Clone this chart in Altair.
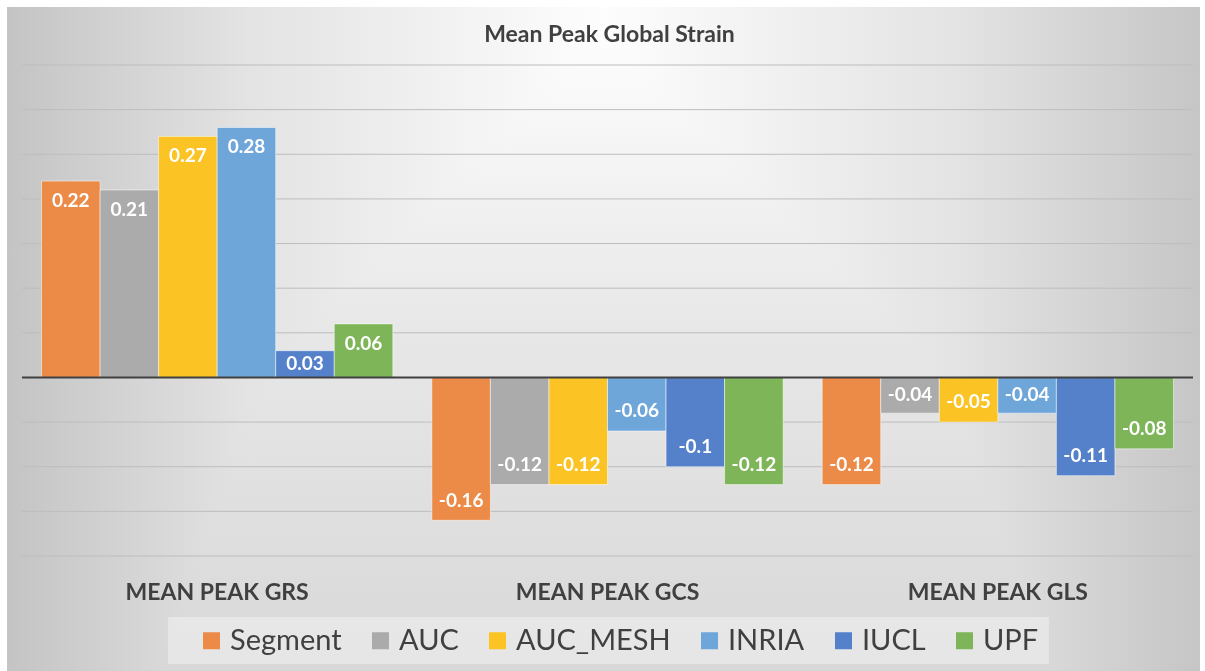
import altair as alt
import pandas as pd

# Categories, series and values
categories = ["MEAN PEAK GRS", "MEAN PEAK GCS", "MEAN PEAK GLS"]
series = ["Segment", "AUC", "AUC_MESH", "INRIA", "IUCL", "UPF"]
colors = ["#EC8A47", "#ABABAB", "#FBC324", "#6EA6DA", "#5580CA", "#7EB559"]

segment = [0.22, -0.16, -0.12]
auc = [0.21, -0.12, -0.04]
auc_mesh = [0.27, -0.12, -0.05]
inria = [0.28, -0.06, -0.04]
iucl = [0.03, -0.10, -0.11]
upf = [0.06, -0.12, -0.08]

grid_ticks = [-0.2, -0.15, -0.1, -0.05, 0.05, 0.1, 0.15, 0.2, 0.25, 0.3, 0.35]

rows = []
for name, vals in zip(series, [segment, auc, auc_mesh, inria, iucl, upf]):
    for cat, v in zip(categories, vals):
        rows.append({"category": cat, "series": name, "value": v, "label": f"{v:g}"})
df = pd.DataFrame(rows)
one = pd.DataFrame({"zero": [0]})

W, H = 1171, 491
FONT = "Lato"
TEXT = "#404040"

yscale = alt.Scale(domain=[-0.2, 0.35], nice=False, zero=False)

x_enc = alt.X(
    "category:N",
    sort=categories,
    scale=alt.Scale(paddingInner=0.1, paddingOuter=0.05),
    axis=alt.Axis(
        title=None, domain=False, ticks=False, grid=False, labelAngle=0,
        labelFont=FONT, labelFontWeight="bold", labelFontSize=23,
        labelColor=TEXT, labelPadding=25, labelLimit=0, zindex=1,
    ),
)
xo_enc = alt.XOffset("series:N", sort=series, scale=alt.Scale(paddingInner=0, paddingOuter=0))

# Chart-area backdrop: horizontal sheen, darkened towards the bottom
bg_h = alt.Chart(one).mark_rect(
    fill={
        "gradient": "linear", "x1": 0, "y1": 0, "x2": 1, "y2": 0,
        "stops": [
            {"offset": 0, "color": "#c4c4c4"},
            {"offset": 0.2, "color": "#e3e3e3"},
            {"offset": 0.5, "color": "#fdfdfd"},
            {"offset": 0.8, "color": "#e3e3e3"},
            {"offset": 1, "color": "#c6c6c6"},
        ],
    }
).encode(x=alt.value(-15), x2=alt.value(1178), y=alt.value(-58), y2=alt.value(606))

bg_v = alt.Chart(one).mark_rect(
    blend="darken",
    fill={
        "gradient": "linear", "x1": 0, "y1": 0, "x2": 0, "y2": 1,
        "stops": [
            {"offset": 0, "color": "#ffffff"},
            {"offset": 0.5, "color": "#e7e7e7"},
            {"offset": 1, "color": "#d8d8d8"},
        ],
    },
).encode(x=alt.value(-15), x2=alt.value(1178), y=alt.value(-58), y2=alt.value(606))

legend_box = alt.Chart(one).mark_rect(fill="#ffffff", opacity=0.35).encode(
    x=alt.value(146), x2=alt.value(1027), y=alt.value(552), y2=alt.value(599)
)

grid = alt.Chart(pd.DataFrame({"tick": grid_ticks})).mark_rule(
    color="#bdbdbd", strokeWidth=1
).encode(y=alt.Y("tick:Q", scale=yscale, axis=None))

bars = alt.Chart(df).mark_bar(stroke="#ffffff", strokeOpacity=0.5, strokeWidth=1).encode(
    x=x_enc,
    xOffset=xo_enc,
    y=alt.Y("value:Q", scale=yscale, axis=None),
    color=alt.Color(
        "series:N",
        sort=series,
        scale=alt.Scale(domain=series, range=colors),
        legend=alt.Legend(
            title=None, orient="none", legendX=175, legendY=561,
            direction="horizontal", symbolType="square", symbolSize=289,
            symbolStrokeWidth=0, labelFont=FONT, labelFontSize=29,
            labelColor=TEXT, labelOffset=4, columnPadding=24, padding=0,
            labelLimit=400, zindex=1,
        ),
    ),
)

zero_line = alt.Chart(one).mark_rule(color="#404040", strokeWidth=2).encode(
    y=alt.Y("zero:Q", scale=yscale, axis=None)
)

labels = alt.Chart(df).transform_calculate(
    pos="datum.value >= 0 ? max(datum.value - 0.022, datum.value / 2) : min(datum.value + 0.022, datum.value / 2)"
).mark_text(
    font=FONT, fontWeight="bold", fontSize=19, color="#ffffff", baseline="middle"
).encode(
    x=x_enc,
    xOffset=xo_enc,
    y=alt.Y("pos:Q", scale=yscale, axis=None),
    text="label:N",
)

title = alt.Chart(one).mark_text(
    text="Mean Peak Global Strain", font=FONT, fontWeight="bold", fontSize=23,
    color=TEXT, baseline="alphabetic", align="center",
).encode(x=alt.value(W / 2 + 2), y=alt.value(-22.7))

chart = alt.layer(
    bg_h, bg_v, legend_box, grid, bars, zero_line, labels, title
).properties(
    width=W,
    height=H,
    padding={"left": 22, "top": 65, "right": 12, "bottom": 115},
    autosize="none",
    background="#ffffff",
).configure_view(stroke="transparent")

chart.save("out.html", embed_options={"renderer": "svg", "actions": False})
